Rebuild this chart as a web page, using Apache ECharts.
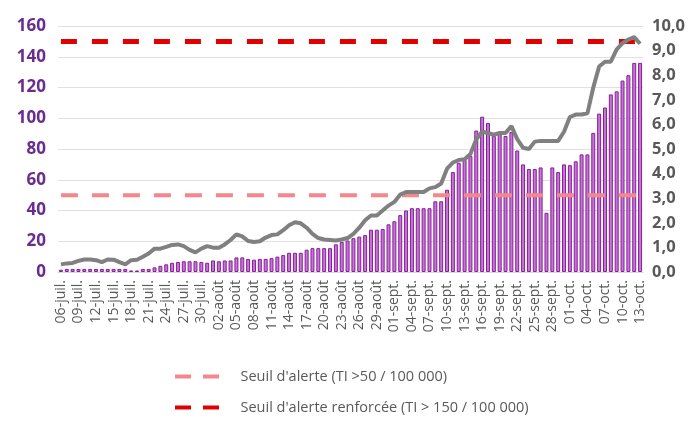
<!DOCTYPE html>
<html>
<head>
<meta charset="utf-8">
<script src="https://cdn.jsdelivr.net/npm/echarts@6/dist/echarts.min.js"></script>
<style>
  html, body { margin: 0; padding: 0; background: #fff; }
  #chart { width: 700px; height: 428px; }
</style>
</head>
<body>
<div id="chart"></div>
<script>
  // jours du 06-juil. au 13-oct.
  var months = ['juil.', 'août', 'sept.', 'oct.']
  var monthDays = [31, 31, 30, 31]
  var days = []
  var m = 0, d = 6
  for (var i = 0; i < 100; i++) {
    days.push((d < 10 ? '0' : '') + d + '-' + months[m])
    d++
    if (d > monthDays[m]) { d = 1; m++ }
  }

  // barres : taux d'incidence quotidien (axe gauche)
  var incidence = [
    1.5, 2, 2, 2, 2, 2, 2, 2, 2, 2,
    2, 2, 1, 1, 2, 2, 3, 4, 5, 6,
    6.5, 7, 7, 7, 6.5, 6, 7.5, 7, 7.5, 7.5,
    9.5, 9.5, 8.5, 8, 8.5, 8.5, 9, 10, 11, 12.5,
    12.5, 12.5, 14.5, 15.5, 15.5, 15.5, 15.5, 18, 19.5, 20.5,
    22, 23, 24, 27.5, 27.5, 28, 31, 33, 37, 40,
    41.5, 41.5, 41.5, 41.5, 46, 46, 53.5, 65, 71, 73,
    75.5, 92, 101, 97, 88.5, 90, 88.5, 91, 79, 70,
    67, 67, 68, 38.5, 68, 65, 70, 69.5, 72, 76.5,
    76.5, 90.5, 103, 107, 115.5, 117.5, 124.5, 128, 136, 136
  ]

  // courbe grise (axe droit)
  var courbe = [
    0.31, 0.35, 0.37, 0.45, 0.51, 0.51, 0.48, 0.4, 0.51, 0.5,
    0.4, 0.31, 0.48, 0.5, 0.62, 0.75, 0.95, 0.95, 1.02, 1.1,
    1.12, 1.05, 0.9, 0.8, 0.95, 1.05, 0.99, 0.99, 1.12, 1.3,
    1.53, 1.45, 1.26, 1.22, 1.25, 1.4, 1.5, 1.53, 1.7, 1.9,
    2.02, 1.98, 1.8, 1.55, 1.38, 1.32, 1.3, 1.28, 1.32, 1.38,
    1.55, 1.8, 2.1, 2.3, 2.3, 2.5, 2.7, 2.85, 3.15, 3.25,
    3.25, 3.25, 3.25, 3.4, 3.45, 3.6, 4.2, 4.45, 4.55, 4.58,
    4.8, 5.4, 5.7, 5.65, 5.58, 5.65, 5.65, 5.93, 5.4, 5.05,
    5.0, 5.3, 5.33, 5.33, 5.33, 5.33, 5.7, 6.3, 6.4, 6.4,
    6.45, 7.5, 8.35, 8.55, 8.55, 9.05, 9.3, 9.45, 9.55, 9.28
  ]

  var seuilAlerte = days.map(function () { return 50 })
  var seuilRenforce = days.map(function () { return 150 })

  var nomAlerte = "Seuil d'alerte (TI >50 / 100 000)"
  var nomRenforce = "Seuil d'alerte renforcée (TI > 150 / 100 000)"
  var dashIcon = 'path://M0,0h16v4h-16z M28,0h16v4h-16z'

  var chart = echarts.init(document.getElementById('chart'))
  chart.setOption({
    animation: false,
    grid: { left: 58, right: 57, top: 26, bottom: 156 },
    legend: {
      orient: 'vertical',
      left: 170,
      top: 364,
      itemGap: 16,
      itemWidth: 45,
      itemHeight: 4,
      textStyle: { color: '#595959', fontSize: 14.5, fontFamily: 'Open Sans', padding: [0, 0, 0, 16] },
      data: [
        { name: nomAlerte, icon: dashIcon },
        { name: nomRenforce, icon: dashIcon }
      ]
    },
    xAxis: {
      type: 'category',
      data: days,
      axisLine: { lineStyle: { color: '#d9d9d9' } },
      axisTick: { interval: 2, length: 4, lineStyle: { color: '#d9d9d9' } },
      axisLabel: {
        interval: 2,
        rotate: 90,
        color: '#595959',
        fontSize: 14,
        fontFamily: 'Open Sans',
        margin: 8
      }
    },
    yAxis: [
      {
        type: 'value',
        min: 0, max: 160, interval: 20,
        axisLabel: { color: '#6a2c8e', fontSize: 17, fontWeight: 'bold', fontFamily: 'Open Sans', margin: 12 },
        splitLine: { lineStyle: { color: '#e0e0e0' } },
        axisLine: { show: false },
        axisTick: { show: false }
      },
      {
        type: 'value',
        min: 0, max: 10, interval: 1,
        axisLabel: {
          color: '#595959', fontSize: 16.5, fontWeight: 'bold', fontFamily: 'Open Sans', margin: 9,
          formatter: function (v) { return v.toFixed(1).replace('.', ',') }
        },
        splitLine: { show: false },
        axisLine: { show: false },
        axisTick: { show: false }
      }
    ],
    series: [
      {
        name: 'Incidence',
        type: 'bar',
        data: incidence,
        barCategoryGap: '32%',
        itemStyle: { color: '#c277d0', borderColor: '#8a1c9c', borderWidth: 1 },
        z: 2
      },
      {
        name: nomAlerte,
        type: 'line',
        data: seuilAlerte,
        symbol: 'none',
        lineStyle: { color: '#f4878b', width: 4, type: [17, 14] },
        itemStyle: { color: '#f4878b' },
        z: 3
      },
      {
        name: nomRenforce,
        type: 'line',
        data: seuilRenforce,
        symbol: 'none',
        lineStyle: { color: '#e00000', width: 5, type: [16, 15] },
        itemStyle: { color: '#e00000' },
        z: 3
      },
      {
        name: 'Courbe',
        type: 'line',
        yAxisIndex: 1,
        data: courbe,
        symbol: 'none',
        lineStyle: { color: '#808080', width: 4 },
        z: 4
      }
    ]
  })
</script>
</body>
</html>
